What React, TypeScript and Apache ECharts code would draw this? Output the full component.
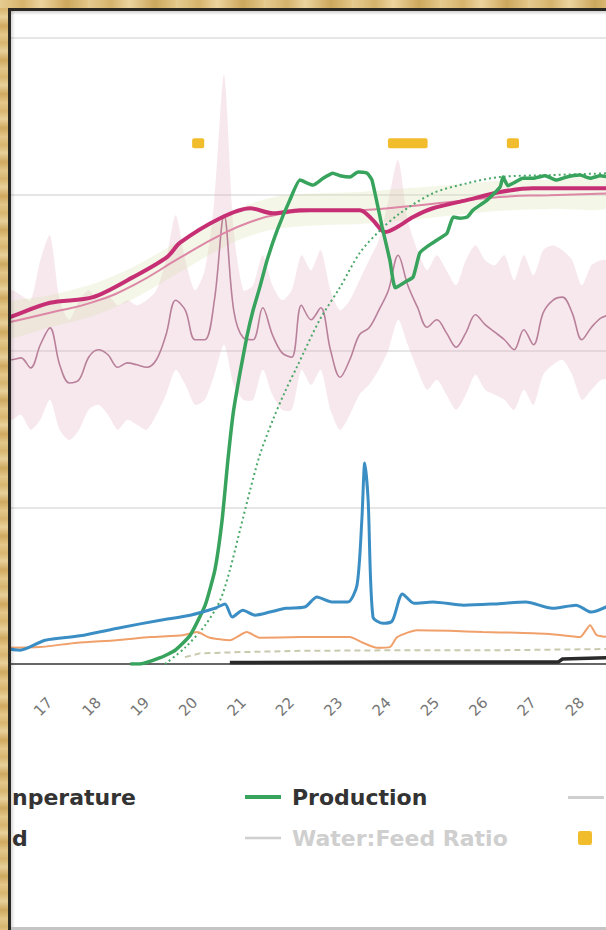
import React, { useEffect, useRef } from "react";
import * as echarts from "echarts";

// ---------- DATA ----------
const tempDays = [16.0,16.2,16.4,16.6,16.8,17.0,17.2,17.4,17.6,17.8,18.0,18.2,18.4,18.6,18.8,19.0,19.2,19.4,19.6,19.8,20.0,20.2,20.4,20.6,20.8,21.0,21.2,21.4,21.6,21.8,22.0,22.2,22.4,22.6,22.8,23.0,23.2,23.4,23.6,23.8,24.0,24.2,24.4,24.6,24.8,25.0,25.2,25.4,25.6,25.8,26.0,26.2,26.4,26.6,26.8,27.0,27.2,27.4,27.6,27.8,28.0,28.2,28.4,28.6];
const temperature = [48.9,48.6,48.9,47.3,51.0,53.7,47.8,44.9,45.4,49.0,50.2,49.4,47.4,48.1,47.8,47.4,48.6,52.6,58.1,56.5,51.8,51.8,58.1,71.7,56.5,52.1,51.8,56.9,52.6,49.7,49.0,57.3,55.0,56.9,50.2,45.8,48.6,52.6,53.7,56.5,59.7,65.3,60.5,57.0,53.8,55.0,52.9,50.6,52.9,55.8,54.2,53.0,51.8,50.2,53.4,51.0,56.1,58.1,58.6,56.1,51.8,53.8,55.3,55.8];
const temperatureMax = [58.1,59.7,58.9,58.1,64.5,68.5,58.1,55.0,58.1,59.7,58.1,58.9,57.3,58.1,57.3,58.1,59.7,64.5,71.7,64.5,59.7,62.9,74.1,94.1,69.3,59.7,60.5,65.3,60.5,58.1,59.7,65.3,62.9,66.1,59.7,56.5,58.1,61.3,64.5,67.7,74.1,80.5,70.9,66.1,62.9,65.3,62.9,60.5,64.5,66.9,64.5,63.7,65.3,61.3,65.3,62.1,66.1,66.9,66.1,64.5,60.5,63.7,64.5,64.2];
const temperatureMin = [40.6,39.0,39.8,37.4,39.0,42.2,37.4,35.8,37.4,40.6,41.4,39.8,37.4,39.0,38.2,37.4,39.8,43.0,47.0,44.6,41.4,42.2,46.2,51.0,44.6,42.2,42.2,47.0,43.0,40.6,40.6,47.0,44.6,47.0,40.6,37.4,39.8,43.0,44.6,47.0,50.2,55.0,51.0,47.0,43.8,45.4,43.0,40.6,43.0,46.2,43.8,43.0,42.2,40.6,43.8,41.4,46.2,47.8,48.6,46.2,42.2,43.8,45.4,45.7];

const weightDays = [16.0,16.17,17.0,17.89,18.72,19.42,19.69,20.52,21.14,21.61,22.17,23.41,23.68,23.93,24.18,24.51,24.92,25.62,26.31,26.99,27.69,28.6];
const bodyWeight = [54.9,55.4,57.7,58.6,61.8,65.0,67.3,71.2,72.8,72.0,72.5,72.5,70.9,69.0,69.8,71.4,72.8,74.1,75.4,76.0,76.0,76.0];

const weightStdDays = [16.0,17.0,17.89,18.72,19.69,20.52,21.14,21.76,22.58,23.41,24.24,25.27,26.31,27.34,28.6];
const weightStd = [54.3,56.1,57.8,60.5,64.9,68.5,70.6,71.9,72.4,72.5,73.0,73.8,74.6,74.9,75.2];
const weightStdHigh = [57.2,58.9,60.7,63.4,67.7,71.4,73.5,74.8,75.2,75.4,75.9,76.5,77.2,77.3,77.5];
const weightStdLow = [52.1,53.8,55.6,58.3,62.6,66.3,68.4,69.6,70.1,70.3,70.8,71.6,72.4,72.7,73.0];

const prodDays = [18.66,18.86,19.28,19.59,19.9,20.21,20.41,20.56,20.68,20.79,20.93,21.07,21.2,21.34,21.49,21.7,21.96,22.17,22.44,22.65,22.85,23.0,23.21,23.37,23.56,23.66,23.87,24.03,24.14,24.34,24.51,24.65,24.82,25.0,25.21,25.34,25.48,25.63,25.75,26.04,26.31,26.37,26.47,26.58,26.78,26.99,27.24,27.47,27.69,27.96,28.17,28.38,28.58];
const production = [0,0,1.0,2.2,4.6,9.4,15.0,23.0,32.6,40.1,46.5,52.2,56.5,60.2,64.5,69.3,74.1,77.3,76.5,77.6,78.4,78.0,77.8,78.6,78.4,77.3,69.8,64.5,60.1,61.0,61.8,65.7,66.8,67.7,68.8,71.4,71.2,71.4,72.5,74.1,76.2,77.8,76.4,76.8,77.6,77.6,78.0,77.3,77.8,78.1,77.6,78.0,77.8];

const prodStdDays = [19.38,19.79,20.21,20.52,20.72,20.93,21.14,21.34,21.61,21.86,22.11,22.58,23.0,23.41,23.83,24.24,24.92,25.63,26.31,27.34,28.58];
const productionStd = [0,2.6,6.2,10.2,15.0,21.4,27.8,33.4,39.0,43.5,47.5,55.0,60.2,65.7,69.3,72.0,75.2,76.8,77.8,78.1,78.4];

const feedDays = [16.0,16.38,16.9,17.62,18.45,19.28,19.9,20.41,20.62,20.77,20.99,21.24,21.55,21.88,22.27,22.52,22.83,23.16,23.35,23.45,23.51,23.58,23.68,23.89,24.08,24.29,24.53,24.92,25.56,26.2,26.84,27.39,27.88,28.19,28.58];
const feed = [2.6,2.2,3.8,4.5,5.8,7.0,7.8,8.9,9.6,7.5,8.6,7.8,8.3,8.9,9.1,10.7,9.9,9.9,12.6,23.0,32.1,26.2,7.5,6.5,6.9,11.2,9.7,9.9,9.4,9.6,9.9,8.9,9.4,8.3,9.4];

const waterDays = [16.0,16.79,17.56,18.37,19.07,19.75,20.04,20.31,20.72,21.07,21.34,22.17,23.2,23.47,23.76,24.03,24.18,24.59,25.27,25.95,26.66,27.34,27.96,28.17,28.31,28.58];
const water = [2.6,2.7,3.4,3.8,4.3,4.6,5.1,4.2,3.8,5.1,4.2,4.3,4.3,3.4,2.6,2.7,4.3,5.4,5.3,5.1,5.0,4.8,4.3,6.2,4.6,4.3];

const mortStdDays = [19.79,20.1,20.93,22.17,24.24,26.31,28.58];
const mortalityStd = [1.1,1.7,1.9,2.1,2.2,2.2,2.4];

const mortDays = [20.72,24.24,27.51,27.6,28.58];
const mortality = [0.25,0.3,0.3,0.8,1.0];

const eventStart = [19.94,23.99,26.45];
const eventEnd = [20.19,24.81,26.7];
const eventLevel = [83.2,83.2,83.2];

const dayTicks = [17,18,19,20,21,22,23,24,25,26,27,28];

// legend texts as they are visible in the cropped picture
const legendVisibleText: Record<string, string> = {
  Temperature: "nperature",
  Feed: "d",
};

// ---------- LAYOUT ----------
const OFF = 100; // chart canvas extends left of the visible frame
const CHART_W = 906;

const pairs = (xs: number[], ys: number[]) => xs.map((x, i) => [x, ys[i]]);

const legendText = {
  fontFamily: "DejaVu Sans",
  fontWeight: "bold" as const,
  fontSize: 22,
  color: "#333",
  lineHeight: 24,
  padding: [0, 0, 0, 6],
};
const legendBase = {
  orient: "vertical" as const,
  top: 785,
  itemWidth: 36,
  itemHeight: 14,
  itemGap: 17,
  padding: 0,
  inactiveColor: "#cfcfcf",
  textStyle: legendText,
};

const squareIcon =
  "path://M2,0h8a2,2 0 0 1 2,2v8a2,2 0 0 1 -2,2h-8a2,2 0 0 1 -2,-2v-8a2,2 0 0 1 2,-2z";
const thickLineIcon = "path://M0,0H36V4H0Z";
const thinLineIcon = "path://M0,0H36V2.5H0Z";
const midLineIcon = "path://M0,0H36V3H0Z";

function bandSeries(name: string, xs: number[], lo: number[], hi: number[], fill: string, smooth: number) {
  return {
    type: "custom",
    name,
    silent: true,
    z: 1,
    data: xs.map((x, i) => [x, lo[i], hi[i]]),
    encode: { x: 0, y: [1, 2] },
    renderItem: (params: any, api: any) => {
      if (params.dataIndex !== 0) return null;
      const upper = xs.map((x, i) => api.coord([x, hi[i]]));
      const lower = xs.map((x, i) => api.coord([x, lo[i]])).reverse();
      return {
        type: "polygon",
        shape: { points: upper.concat(lower), smooth },
        style: { fill },
      };
    },
  };
}

function buildOption(): any {
  const lineBase = { type: "line", symbol: "none", showSymbol: false };
  return {
    animation: false,
    backgroundColor: "transparent",
    grid: { left: OFF + 1.65, right: CHART_W - OFF - 606, top: 38, bottom: 266 },
    legend: [
      {
        ...legendBase,
        left: OFF - 35,
        data: [
          { name: "Temperature", icon: midLineIcon },
          { name: "Feed", icon: midLineIcon },
        ],
        formatter: (name: string) => legendVisibleText[name] || name,
      },
      {
        ...legendBase,
        left: OFF + 245,
        data: [
          { name: "Production", icon: thickLineIcon },
          { name: "Water:Feed Ratio", icon: thinLineIcon },
        ],
        selected: { "Water:Feed Ratio": false },
      },
      {
        ...legendBase,
        left: OFF + 568,
        top: 796,
        data: [{ name: "Egg Weight", icon: midLineIcon }],
        selected: { "Egg Weight": false },
        formatter: () => "",
      },
      {
        ...legendBase,
        left: OFF + 578,
        top: 831,
        data: [{ name: "Events", icon: squareIcon }],
        formatter: () => "",
      },
    ],
    xAxis: {
      type: "value",
      min: 16,
      max: 28.5,
      interval: 1,
      axisLine: { show: true, lineStyle: { color: "#666", width: 2 } },
      axisTick: { show: false },
      splitLine: { show: false },
      axisLabel: {
        rotate: 45,
        margin: 36,
        fontSize: 15,
        color: "#767676",
        fontFamily: "DejaVu Sans",
        formatter: (v: number) => (dayTicks.indexOf(v) >= 0 ? String(v) : ""),
      },
    },
    yAxis: {
      type: "value",
      min: 0,
      max: 100,
      interval: 25,
      axisLabel: { show: false },
      axisLine: { show: false },
      axisTick: { show: false },
      splitLine: { lineStyle: { color: "#e6e6e6", width: 2 } },
    },
    series: [
      bandSeries("Temperature Range", tempDays, temperatureMin, temperatureMax, "rgba(224,170,192,0.27)", 0.25),
      bandSeries("Weight Standard Range", weightStdDays, weightStdLow, weightStdHigh, "rgba(214,226,170,0.27)", 0.3),
      {
        ...lineBase,
        name: "Temperature",
        data: pairs(tempDays, temperature),
        smooth: 0.35,
        color: "#b9809a",
        lineStyle: { color: "#b9809a", width: 1.6 },
        z: 2,
      },
      {
        ...lineBase,
        name: "Weight Standard",
        data: pairs(weightStdDays, weightStd),
        smooth: true,
        lineStyle: { color: "#dd86a6", width: 2 },
        z: 3,
      },
      {
        ...lineBase,
        name: "Body Weight",
        data: pairs(weightDays, bodyWeight),
        smooth: 0.3,
        lineStyle: { color: "#c62f74", width: 4 },
        z: 4,
      },
      {
        ...lineBase,
        name: "Production Standard",
        data: pairs(prodStdDays, productionStd),
        smooth: 0.3,
        lineStyle: { color: "#4aa868", width: 2, type: [2, 3] },
        z: 5,
      },
      {
        ...lineBase,
        name: "Production",
        data: pairs(prodDays, production),
        smooth: 0.15,
        color: "#37a35c",
        lineStyle: { color: "#37a35c", width: 3.5 },
        z: 6,
      },
      {
        ...lineBase,
        name: "Feed",
        data: pairs(feedDays, feed),
        smooth: 0.25,
        color: "#3b8ec4",
        lineStyle: { color: "#3b8ec4", width: 3 },
        z: 6,
      },
      {
        ...lineBase,
        name: "Water",
        data: pairs(waterDays, water),
        smooth: 0.2,
        lineStyle: { color: "#f0a06a", width: 2 },
        z: 5,
      },
      {
        ...lineBase,
        name: "Mortality Standard",
        data: pairs(mortStdDays, mortalityStd),
        lineStyle: { color: "#c9c9ad", width: 2, type: [6, 4] },
        z: 5,
      },
      {
        ...lineBase,
        name: "Mortality",
        data: pairs(mortDays, mortality),
        lineStyle: { color: "#2a2a2a", width: 3.5 },
        z: 7,
      },
      {
        ...lineBase,
        name: "Water:Feed Ratio",
        data: [],
        color: "#999",
        lineStyle: { color: "#999", width: 2 },
      },
      {
        ...lineBase,
        name: "Egg Weight",
        data: [],
        color: "#aaa",
        lineStyle: { color: "#aaa", width: 3 },
      },
      {
        type: "custom",
        name: "Events",
        color: "#f2bd2c",
        itemStyle: { color: "#f2bd2c" },
        data: eventStart.map((s, i) => [s, eventEnd[i], eventLevel[i]]),
        encode: { x: [0, 1], y: 2 },
        renderItem: (params: any, api: any) => {
          const a = api.coord([api.value(0), api.value(2)]);
          const b = api.coord([api.value(1), api.value(2)]);
          const h = 10;
          return {
            type: "rect",
            shape: { x: a[0], y: a[1] - h / 2, width: Math.max(b[0] - a[0], h), height: h, r: 2 },
            style: { fill: "#f2bd2c" },
          };
        },
        z: 8,
      },
    ],
  };
}

const goldV =
  "repeating-linear-gradient(180deg, #e4c98c 0px, #d8b66f 9px, #e8d09a 17px, #cfa95f 26px, #e2c486 34px)";
const goldH =
  "repeating-linear-gradient(90deg, #e6cc91 0px, #d6b36c 23px, #ecd49e 41px, #cda75c 67px, #e3c688 88px)";

export default function App() {
  const ref = useRef<HTMLDivElement>(null);
  useEffect(() => {
    const chart = echarts.init(ref.current as HTMLDivElement, null, { renderer: "svg" });
    chart.setOption(buildOption());
    return () => chart.dispose();
  }, []);

  return (
    <div
      style={{
        position: "fixed",
        left: 0,
        top: 0,
        width: 606,
        height: 930,
        overflow: "hidden",
        background: "#ddc07f",
      }}
    >
      <div style={{ position: "absolute", left: 11, top: 11, right: 0, bottom: 3, background: "#fff" }} />
      <div ref={ref} style={{ position: "absolute", left: -OFF, top: 0, width: CHART_W, height: 930 }} />
      {/* frame overlays */}
      <div style={{ position: "absolute", left: 0, top: 0, width: 8, height: 930, background: goldV }} />
      <div style={{ position: "absolute", left: 0, top: 0, width: 606, height: 8, background: goldH }} />
      <div style={{ position: "absolute", left: 8, top: 8, width: 3, height: 922, background: "#2b2722" }} />
      <div style={{ position: "absolute", left: 8, top: 8, width: 598, height: 3, background: "#2b2722" }} />
      <div
        style={{
          position: "absolute",
          left: 11,
          top: 11,
          width: 595,
          height: 4,
          background: "linear-gradient(180deg, rgba(0,0,0,0.18), rgba(0,0,0,0))",
        }}
      />
      <div
        style={{
          position: "absolute",
          left: 11,
          top: 11,
          width: 4,
          height: 916,
          background: "linear-gradient(90deg, rgba(0,0,0,0.15), rgba(0,0,0,0))",
        }}
      />
      <div style={{ position: "absolute", left: 11, top: 927, width: 595, height: 3, background: "#c4c4c4" }} />
    </div>
  );
}
